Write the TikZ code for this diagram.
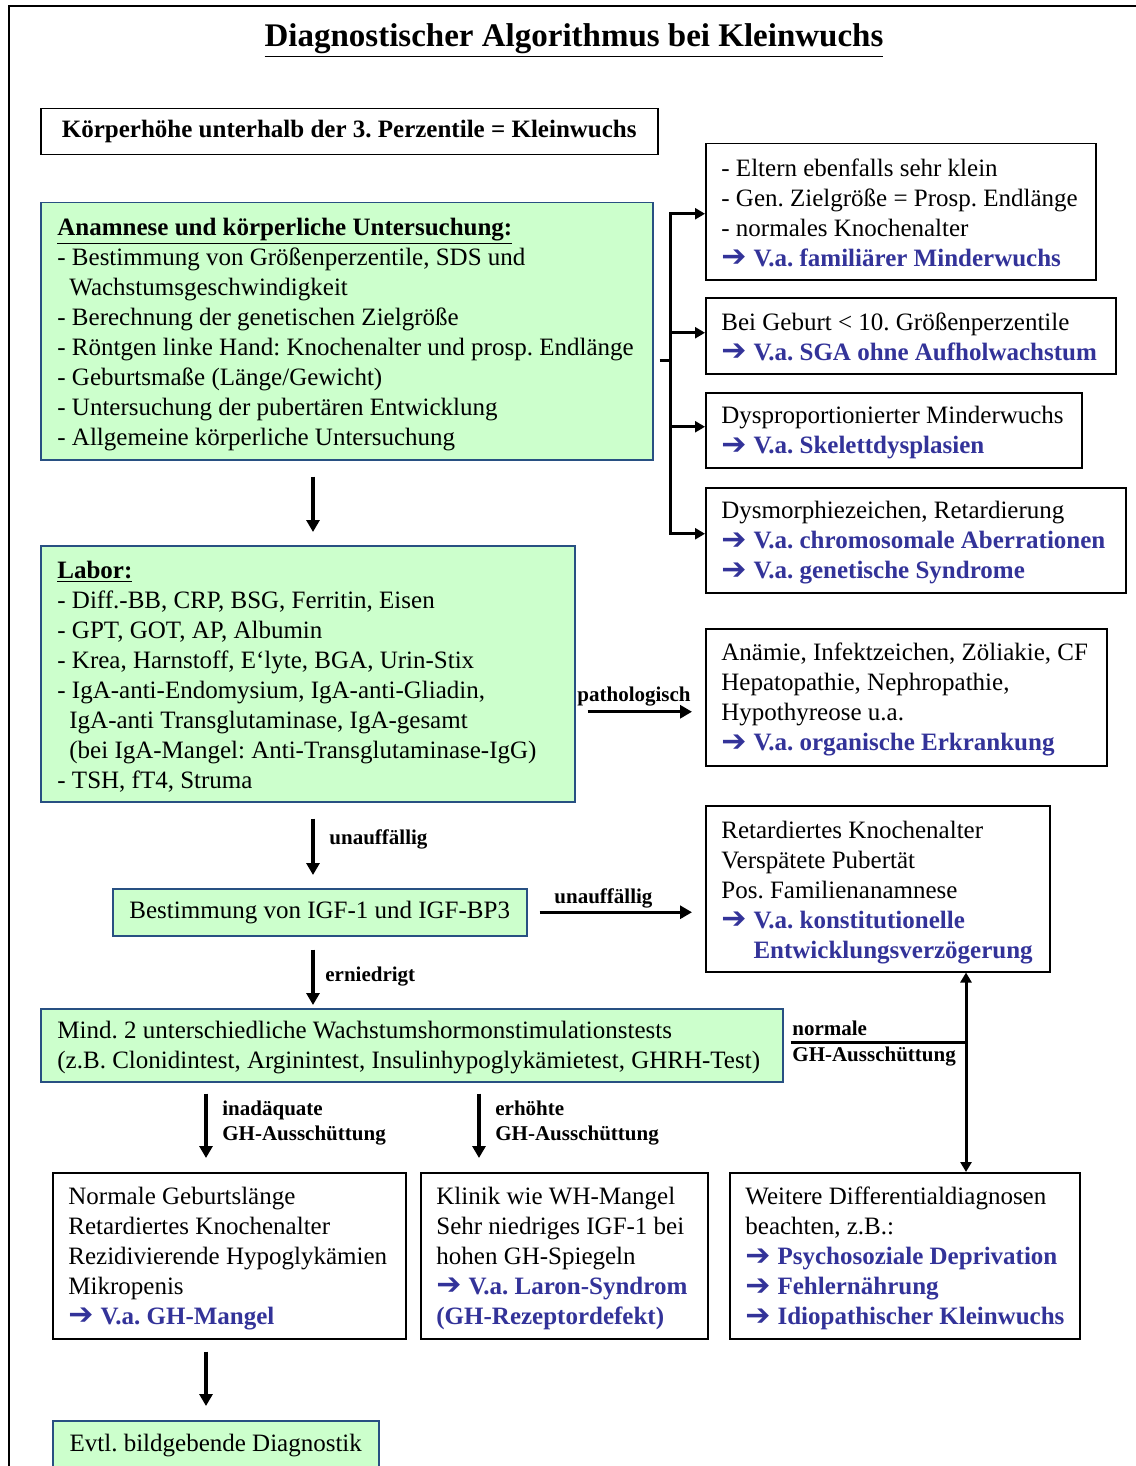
\documentclass[tikz,border=0pt]{standalone}
\usepackage{fontspec}
\setmainfont{Liberation Serif}
\newfontfamily\dejavu{DejaVu Sans}
\usetikzlibrary{arrows.meta,calc}
\definecolor{vablue}{RGB}{51,51,153}
\definecolor{gfill}{RGB}{204,255,204}
\definecolor{gdraw}{RGB}{40,80,130}
\frenchspacing
\newcommand\varr{\raisebox{-0.3pt}{\scalebox{1.2}{\dejavu\char"2794}}}
\newcommand\va[1]{\textcolor{vablue}{\textbf{\varr\hspace{0.28em}#1}}}
\newcommand\vb[1]{\textcolor{vablue}{\textbf{#1}}}
\begin{document}
\begin{tikzpicture}[x=0.5pt,y=-0.5pt,
 gbox/.style={draw=gdraw, fill=gfill, line width=0.75pt, anchor=north west, inner sep=0pt},
 wbox/.style={draw=black, fill=white, line width=0.75pt, anchor=north west, inner sep=0pt},
 txt/.style={anchor=west, align=left, inner sep=0pt, font=\fontsize{12.5}{15}\selectfont},
 lbl/.style={anchor=west, align=left, inner sep=0pt, font=\fontsize{10.5}{12.5}\selectfont\bfseries},
 arr/.style={line width=1.6pt, -{Triangle[length=6pt,width=6.5pt]}},
 arrb/.style={line width=1.5pt, -{Triangle[length=5pt,width=5.5pt]}},
 thk/.style={line width=1.5pt}]
\useasboundingbox (0,0) rectangle (1135,1466);
% outer frame
\draw[line width=1pt] (9,1490) -- (9,6) -- (1150,6);
% title
\node[font=\fontsize{16.5}{20}\selectfont\bfseries, inner sep=0pt] (title) at (574,41) {\underline{Diagnostischer Algorithmus bei Kleinwuchs}};
% left column
\node[wbox, minimum width=308.5pt, minimum height=23pt, font=\fontsize{12.5}{15}\selectfont\bfseries] (K) at (40,108) {\raisebox{-1pt}{Körperhöhe unterhalb der 3. Perzentile = Kleinwuchs}};

\node[gbox, minimum width=306pt, minimum height=128.5pt] (anam) at (40,202) {};
\node[txt] (anamT) at ([xshift=8.5pt,yshift=-1.5pt]anam.west) {\underline{\textbf{Anamnese und körperliche Untersuchung:}}\\
- Bestimmung von Größenperzentile, SDS und\\
\hspace*{6pt}Wachstumsgeschwindigkeit\\
- Berechnung der genetischen Zielgröße\\
- Röntgen linke Hand: Knochenalter und prosp. Endlänge\\
- Geburtsmaße (Länge/Gewicht)\\
- Untersuchung der pubertären Entwicklung\\
- Allgemeine körperliche Untersuchung};

\node[gbox, minimum width=267pt, minimum height=128pt] (labor) at (40,545) {};
\node[txt] (laborT) at ([xshift=8.5pt,yshift=-1.25pt]labor.west) {\underline{\textbf{Labor:}}\\
- Diff.-BB, CRP, BSG, Ferritin, Eisen\\
- GPT, GOT, AP, Albumin\\
- Krea, Harnstoff, E‘lyte, BGA, Urin-Stix\\
- IgA-anti-Endomysium, IgA-anti-Gliadin,\\
\hspace*{6pt}IgA-anti Transglutaminase, IgA-gesamt\\
\hspace*{6pt}(bei IgA-Mangel: Anti-Transglutaminase-IgG)\\
- TSH, fT4, Struma};

\node[gbox, minimum width=207pt, minimum height=23.5pt, font=\fontsize{12.5}{15}\selectfont] (igf) at (112,888) {\raisebox{-1pt}{Bestimmung von IGF-1 und IGF-BP3}};

\node[gbox, minimum width=371pt, minimum height=36.5pt] (mind) at (40,1008) {};
\node[txt] (mindT) at ([xshift=8.5pt,yshift=-1.25pt]mind.west) {Mind. 2 unterschiedliche Wachstumshormonstimulationstests\\
(z.B. Clonidintest, Arginintest, Insulinhypoglykämietest, GHRH-Test)};

\node[wbox, minimum width=176.5pt, minimum height=83pt] (normal) at (52,1172) {};
\node[txt] (normalT) at ([xshift=8pt,yshift=-1.25pt]normal.west) {Normale Geburtslänge\\
Retardiertes Knochenalter\\
Rezidivierende Hypoglykämien\\
Mikropenis\\
\va{V.a. GH-Mangel}};

\node[wbox, minimum width=143.5pt, minimum height=83pt] (klinik) at (420,1172) {};
\node[txt] (klinikT) at ([xshift=8pt,yshift=-1.25pt]klinik.west) {Klinik wie WH-Mangel\\
Sehr niedriges IGF-1 bei\\
hohen GH-Spiegeln\\
\va{V.a. Laron-Syndrom}\\
\vb{(GH-Rezeptordefekt)}};

\node[wbox, minimum width=175pt, minimum height=83pt] (weitere) at (729,1172) {};
\node[txt] (weitereT) at ([xshift=8pt,yshift=-1.25pt]weitere.west) {Weitere Differentialdiagnosen\\
beachten, z.B.:\\
\va{Psychosoziale Deprivation}\\
\va{Fehlernährung}\\
\va{Idiopathischer Kleinwuchs}};

\node[gbox, minimum width=163pt, minimum height=25pt, font=\fontsize{12.5}{15}\selectfont] (evtl) at (52,1420) {\raisebox{-1pt}{Evtl. bildgebende Diagnostik}};

% right column
\node[wbox, minimum width=195pt, minimum height=68pt] (fam) at (705,143) {};
\node[txt] (famT) at ([xshift=8pt,yshift=-0.5pt]fam.west) {- Eltern ebenfalls sehr klein\\
- Gen. Zielgröße = Prosp. Endlänge\\
- normales Knochenalter\\
\va{V.a. familiärer Minderwuchs}};

\node[wbox, minimum width=205pt, minimum height=38pt] (sga) at (705,297) {};
\node[txt] (sgaT) at ([xshift=8pt,yshift=-0.5pt]sga.west) {Bei Geburt < 10. Größenperzentile\\
\va{V.a. SGA ohne Aufholwachstum}};

\node[wbox, minimum width=188pt, minimum height=37.5pt] (skel) at (705,392) {};
\node[txt] (skelT) at ([xshift=8pt,yshift=-1.25pt]skel.west) {Dysproportionierter Minderwuchs\\
\va{V.a. Skelettdysplasien}};

\node[wbox, minimum width=210pt, minimum height=52.5pt] (chrom) at (705,487) {};
\node[txt] (chromT) at ([xshift=8pt,yshift=-1.25pt]chrom.west) {Dysmorphiezeichen, Retardierung\\
\va{V.a. chromosomale Aberrationen}\\
\va{V.a. genetische Syndrome}};

\node[wbox, minimum width=200.5pt, minimum height=68.5pt] (org) at (705,628) {};
\node[txt] (orgT) at ([xshift=8pt,yshift=-1.25pt]org.west) {Anämie, Infektzeichen, Zöliakie, CF\\
Hepatopathie, Nephropathie,\\
Hypothyreose u.a.\\
\va{V.a. organische Erkrankung}};

\node[wbox, minimum width=172pt, minimum height=83pt] (konst) at (705,805) {};
\node[txt] (konstT) at ([xshift=8pt,yshift=-1.75pt]konst.west) {Retardiertes Knochenalter\\
Verspätete Pubertät\\
Pos. Familienanamnese\\
\va{V.a. konstitutionelle}\\
\hphantom{\textbf{\varr\hspace{0.28em}}}\vb{Entwicklungsverzögerung}};

% bracket from Anamnese
\coordinate (bx) at (670,360);
\coordinate (famW) at ([yshift=-1pt]fam.west);
\coordinate (sgaW) at ([yshift=1.5pt]sga.west);
\coordinate (skelW) at ([yshift=1.75pt]skel.west);
\coordinate (chromW) at ([yshift=3.25pt]chrom.west);
\draw[thk, shorten <=3pt] (anam.east |- bx) -- (bx);
\draw[thk, line cap=rect] (bx |- famW) -- (bx |- chromW);
\draw[arrb] (bx |- famW) -- (famW);
\draw[arrb] (bx |- sgaW) -- (sgaW);
\draw[arrb] (bx |- skelW) -- (skelW);
\draw[arrb] (bx |- chromW) -- (chromW);

% main vertical arrows
\coordinate (c313) at (313,0);
\coordinate (c206) at (206,0);
\coordinate (c479) at (479,0);
\coordinate (vx) at (966,0);
\draw[arr, shorten <=8pt, shorten >=6.5pt] (anam.south -| c313) -- (labor.north -| c313);
\draw[arr, shorten <=8pt, shorten >=6.5pt] (labor.south -| c313) -- (igf.north -| c313);
\node[lbl] (l1) at (329,839) {unauffällig};
\draw[arr, shorten <=6.5pt, shorten >=1.5pt] (igf.south -| c313) -- (mind.north -| c313);
\node[lbl] (l2) at (325,977) {erniedrigt};

% horizontal arrows
\draw[arr, shorten <=6pt, shorten >=6.5pt] (igf.east) -- (igf.east -| konst.west);
\node[lbl] (l3) at (554,898) {unauffällig};
\draw[arr, shorten <=6pt, shorten >=6.5pt] ([yshift=-19pt]labor.east) -- ([yshift=-7.25pt]org.west);
\node[lbl, anchor=center] (l4) at (634,697) {pathologisch};

% normale GH-Ausschuettung
\coordinate (mindE) at ([yshift=1.25pt]mind.east);
\draw[thk, shorten <=3.5pt] (mindE) -- (mindE -| vx);
\draw[thk, {Triangle[length=5pt,width=5.5pt]}-{Triangle[length=5pt,width=5.5pt]}] (konst.south -| vx) -- (weitere.north -| vx);
\node[lbl] (l5) at (792,1028) {normale};
\node[lbl] (l6) at (792,1057) {GH-Ausschüttung};

% from stimulation tests
\draw[arr, shorten <=5.5pt, shorten >=7pt] (mind.south -| c206) -- (normal.north -| c206);
\draw[arr, shorten <=5.5pt, shorten >=7pt] (mind.south -| c479) -- (klinik.north -| c479);
\node[lbl] (l7) at (222,1123.5) {inadäquate\\GH-Ausschüttung};
\node[lbl] (l8) at (495,1123.5) {erhöhte\\GH-Ausschüttung};
\draw[arr, shorten <=6pt, shorten >=7pt] (normal.south -| c206) -- (evtl.north -| c206);
\end{tikzpicture}
\end{document}
